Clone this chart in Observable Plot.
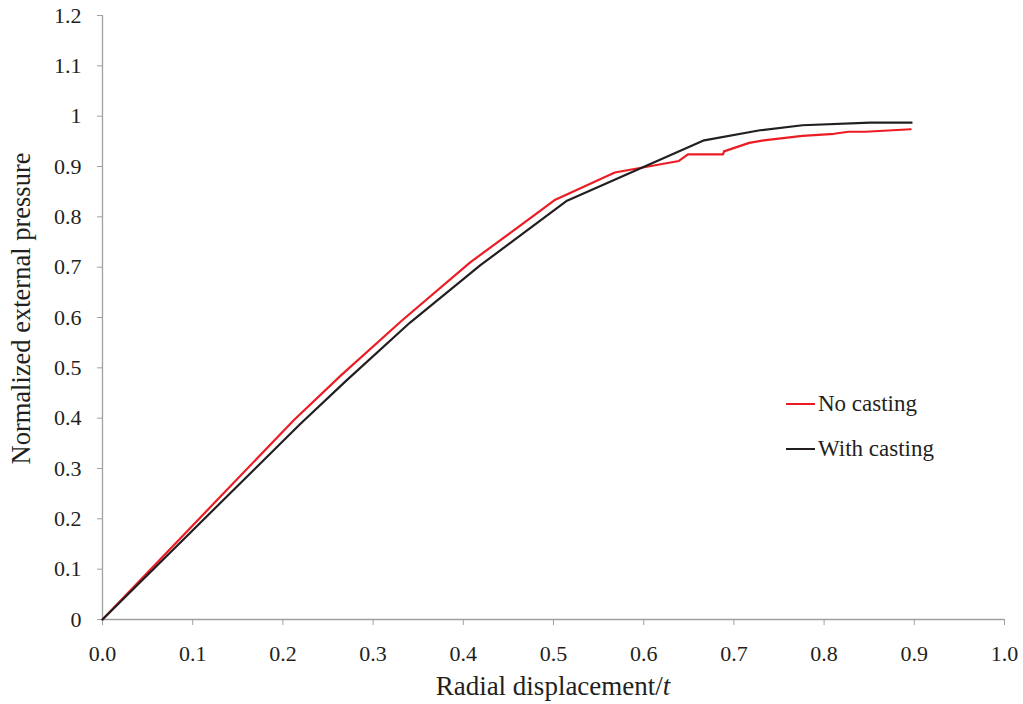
<!DOCTYPE html>
<html>
<head>
<meta charset="utf-8">
<script src="https://cdn.jsdelivr.net/npm/d3@7"></script>
<script src="https://cdn.jsdelivr.net/npm/@observablehq/plot@0.6"></script>
<style>
  html, body { margin: 0; padding: 0; background: #fff; }
  #wrap { position: relative; width: 1023px; height: 704px; overflow: hidden; font-family: "Liberation Serif", "Times New Roman", "DejaVu Serif", serif; color: #231f20; }
  #wrap svg, #wrap svg text { font-family: "Liberation Serif", "Times New Roman", "DejaVu Serif", serif !important; }
  .xlabel { position: absolute; left: 0; width: 1106px; text-align: center; top: 671px; font-size: 27px; line-height: normal; white-space: nowrap; }
  .leg { position: absolute; font-size: 23px; white-space: nowrap; display: flex; align-items: center; }
  .leg span.sw { display: inline-block; width: 29px; height: 2px; margin-right: 3px; }
</style>
</head>
<body>
<div id="wrap"></div>
<script>
const seriesNames = ["No casting", "With casting"];
const seriesColors = ["#ed1c24", "#231f20"];

const noCastingX = [0, 0.212, 0.265, 0.332, 0.408, 0.502, 0.568, 0.639, 0.649, 0.688, 0.689, 0.717, 0.733, 0.776, 0.811, 0.827, 0.846, 0.896];
const noCastingY = [0, 0.396, 0.486, 0.594, 0.710, 0.834, 0.888, 0.911, 0.924, 0.924, 0.930, 0.947, 0.952, 0.961, 0.965, 0.969, 0.969, 0.974];

const withCastingX = [0, 0.2195, 0.27, 0.341, 0.419, 0.515, 0.667, 0.729, 0.776, 0.851, 0.897];
const withCastingY = [0, 0.389, 0.474, 0.590, 0.704, 0.832, 0.952, 0.972, 0.982, 0.987, 0.987];

const xTicks = [0, 0.1, 0.2, 0.3, 0.4, 0.5, 0.6, 0.7, 0.8, 0.9, 1.0];
const yTicks = [0, 0.1, 0.2, 0.3, 0.4, 0.5, 0.6, 0.7, 0.8, 0.9, 1, 1.1, 1.2];

const data = [
  ...noCastingX.map((x, i) => ({series: seriesNames[0], x, y: noCastingY[i]})),
  ...withCastingX.map((x, i) => ({series: seriesNames[1], x, y: withCastingY[i]}))
];

const chart = Plot.plot({
  width: 1023,
  height: 704,
  marginLeft: 102,
  marginRight: 19,
  marginTop: 15,
  marginBottom: 85,
  style: {fontFamily: "'Liberation Serif', 'Times New Roman', serif", fontSize: "22px", color: "#231f20", background: "#fff"},
  x: {domain: [0, 1], ticks: xTicks, tickFormat: d3.format(".1f"), tickSize: 6, tickPadding: 20, label: null},
  y: {domain: [0, 1.2], ticks: yTicks, tickFormat: d => d3.format("~g")(+d.toFixed(1)), tickSize: 5, tickPadding: 16,
      label: "Normalized external pressure", labelAnchor: "center", labelArrow: "none", labelOffset: 91},
  color: {domain: seriesNames, range: seriesColors},
  marks: [
    Plot.ruleY([0], {stroke: "#a0a0a0", strokeWidth: 1.3}),
    Plot.ruleX([0], {stroke: "#a0a0a0", strokeWidth: 1.3}),
    Plot.lineY(data, {x: "x", y: "y", stroke: "series", strokeWidth: 2.2, curve: "linear"})
  ]
});
chart.querySelectorAll("g[aria-label='x-axis tick'], g[aria-label='y-axis tick']").forEach(g => g.setAttribute("stroke", "#a0a0a0"));
const yl = chart.querySelector("g[aria-label='y-axis label']");
if (yl) {
  yl.setAttribute("font-size", "26.5px");
  const t = yl.getAttribute("transform") || "";
  yl.setAttribute("transform", "translate(0,-9) " + t);
}

const wrap = document.getElementById("wrap");
wrap.appendChild(chart);

const xl = document.createElement("div");
xl.className = "xlabel";
xl.innerHTML = "Radial displacement/<i>t</i>";
wrap.appendChild(xl);

const legTops = [391, 436];
seriesNames.forEach((name, i) => {
  const d = document.createElement("div");
  d.className = "leg";
  d.style.left = "786px";
  d.style.top = legTops[i] + "px";
  const sw = document.createElement("span");
  sw.className = "sw";
  sw.style.background = seriesColors[i];
  d.appendChild(sw);
  d.appendChild(document.createTextNode(name));
  wrap.appendChild(d);
});
</script>
</body>
</html>
